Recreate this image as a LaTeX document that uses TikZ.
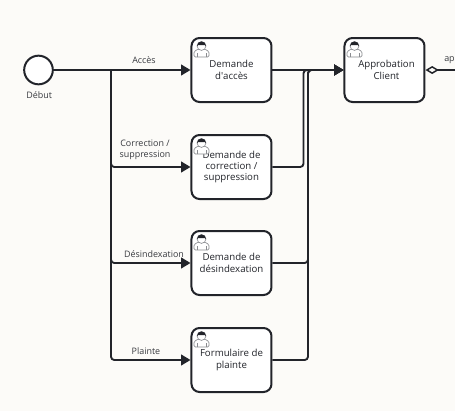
\documentclass[tikz,border=0pt]{standalone}
\usepackage{fontspec}
\setmainfont{Open Sans}
\usepackage{tikz}
\usetikzlibrary{arrows.meta,positioning}
\definecolor{ink}{HTML}{22242A}
\definecolor{paper}{HTML}{FCFBF8}
\definecolor{iconline}{HTML}{8A8C90}

\begin{document}
\begin{tikzpicture}[
  x=0.75pt, y=-0.75pt,
  font=\fontsize{7.25}{8.6}\selectfont,
  color=ink,
  taskbox/.style={draw=ink, line width=1.5pt, rounded corners=6pt, align=center, minimum width=60pt, minimum height=48pt, inner sep=0pt, fill=white},
  startevent/.style={draw=ink, circle, line width=1.5pt, minimum size=21.5pt, inner sep=0pt, fill=white},
  edgelabel/.style={font=\fontsize{6.7}{8}\selectfont, align=center, text=ink!90, inner sep=0pt},
  flow/.style={-{Triangle[length=7pt,width=8pt]}, line width=1.4pt, rounded corners=2.5pt, draw=ink},
  branch/.style={line width=1.4pt, rounded corners=2.5pt, draw=ink},
  message/.style={{Diamond[open,length=10pt,width=6pt,line width=1.1pt]}-, line width=1.2pt, draw=ink},
  usericon/.pic={
    \draw[iconline, line width=0.5pt, fill=white, rounded corners=1pt] (-7.5,8) -- (-7.5,2.5) -- (-3,0) -- (3,0) -- (7.5,2.5) -- (7.5,8) -- cycle;
    \draw[iconline, line width=0.5pt] (-4.5,8) -- (-4.5,4) (4.5,8) -- (4.5,4);
    \draw[iconline, line width=0.5pt, fill=white] (0,-3) circle (4.4);
    \fill[ink] (-4.6,-3) arc (180:360:4.6) -- (3.2,-4) -- (-3.2,-4) -- cycle;
  }
]
\fill[paper] (0,0) rectangle (455,411);
\useasboundingbox (0,0) rectangle (455,411);

\node[startevent] (debut) at (38.5,70) {};
\node[below=4.6pt of debut, xshift=0.5pt, font=\fontsize{6.7}{8}\selectfont, text=ink!90, inner sep=0pt] (debutlabel) {Début};

\node[taskbox] (acces) at (231.5,70) {Demande\\d\textquotesingle accès};
\node[taskbox] (correction) at (231.5,167) {Demande de\\correction /\\suppression};
\node[taskbox] (desindex) at (231.5,263) {Demande de\\désindexation};
\node[taskbox] (plainte) at (231.5,360) {Formulaire de\\plainte};
\node[taskbox] (approbation) at (384.5,70) {\hspace*{3pt}Approbation\\\hspace*{3pt}Client};

\pic at (201.5,49) {usericon};
\pic at (201.5,146) {usericon};
\pic at (201.5,242) {usericon};
\pic at (201.5,339) {usericon};
\pic at (354.5,49) {usericon};

\coordinate (trunk) at (111,70);
\coordinate (mergeone) at (303.5,70);
\coordinate (mergetwo) at (308,70);
\coordinate (exit) at (455,70);

\draw[flow] (debut) -- (acces);
\draw[flow] (trunk) |- (correction.west);
\draw[flow] (trunk) |- (desindex.west);
\draw[flow] (trunk) |- (plainte.west);
\draw[branch] (debut.east) -- (trunk);

\draw[flow] (acces) -- (approbation);
\draw[flow] (correction.east) -| (mergeone) -- (approbation.west);
\draw[flow] (desindex.east) -| (mergetwo) -- (approbation.west);
\draw[flow] (plainte.east) -| (mergetwo) -- (approbation.west);

\draw[message] (approbation.east) -- (exit);

\node[edgelabel] (accesl) at (144,60) {Accès};
\node[edgelabel] (correctionl) at (145,150) {Correction /\\suppression};
\node[edgelabel] (desindexl) at (154,254) {Désindexation};
\node[edgelabel] (plaintel) at (146,351) {Plainte};
\node[edgelabel, anchor=west] (approuvel) at (444,60) {ap};
\end{tikzpicture}
\end{document}
